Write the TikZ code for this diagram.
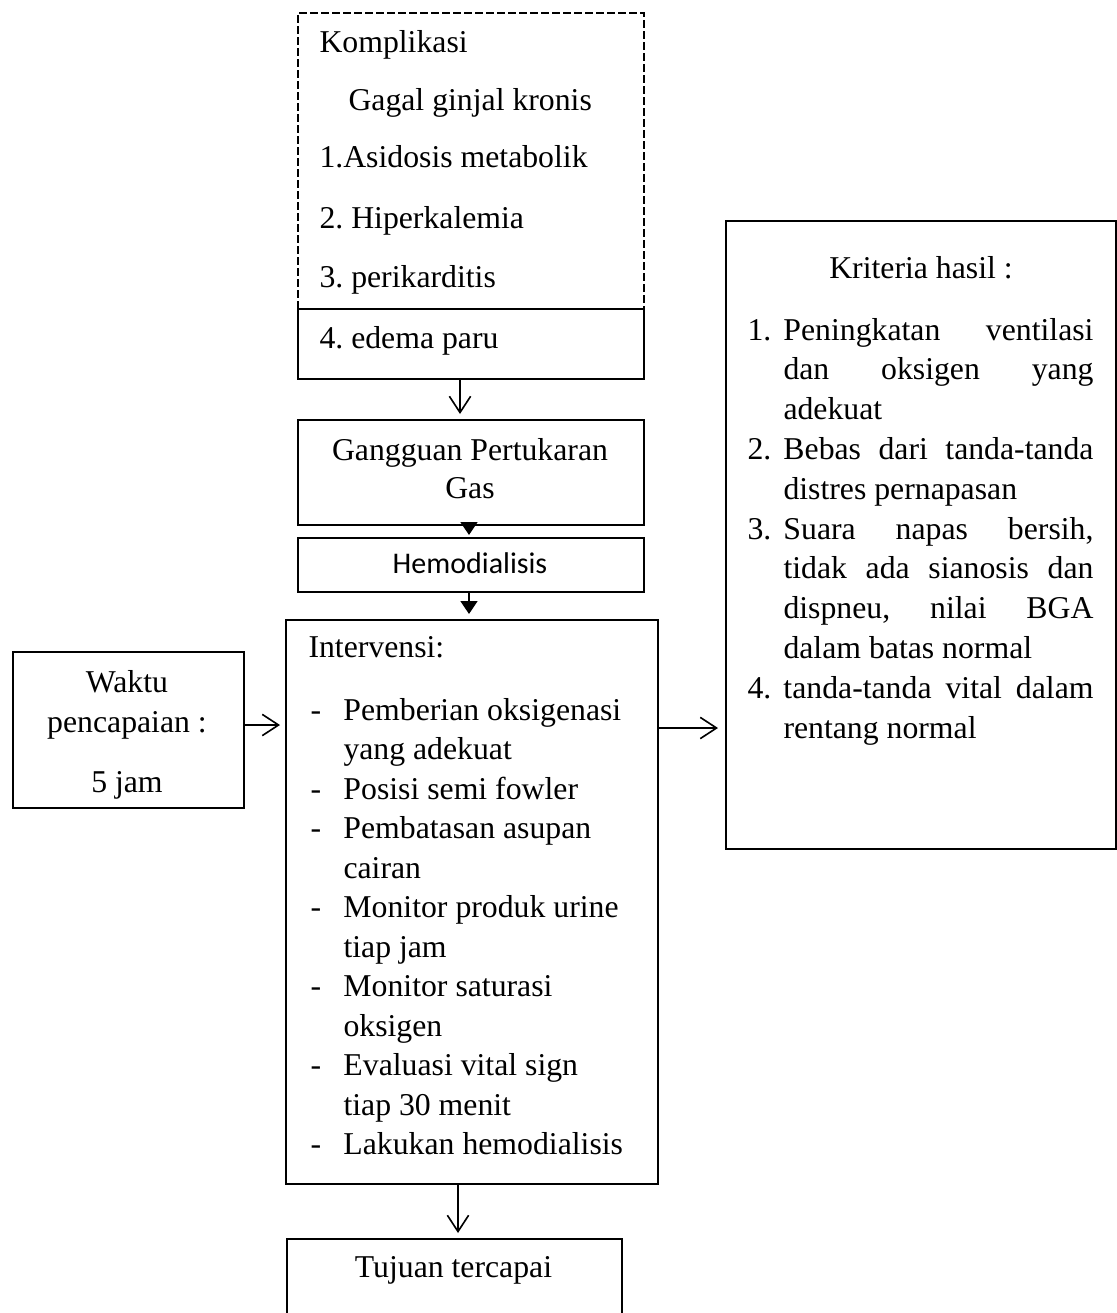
\documentclass[tikz,border=0pt]{standalone}
\usepackage{fontspec}
\setmainfont{Liberation Serif}
\newfontfamily\hemofont{Carlito}
\usetikzlibrary{arrows.meta}
\frenchspacing
\newcommand{\just}[1]{\makebox[124pt][s]{#1}}

\begin{document}
\begin{tikzpicture}
[x=0.4pt,y=-0.4pt,
  box/.style 2 args={draw=black,line width=0.8pt,anchor=north west,inner sep=0pt,
    minimum width=#1*0.4pt,minimum height=#2*0.4pt},
  dashbox/.style 2 args={box={#1}{#2},dash pattern=on 3pt off 1.4pt},
  txt/.style={anchor=base west,inner sep=0pt,font=\fontsize{12.7}{15.8}\selectfont},
  ctxt/.style={txt,anchor=base},
  open/.style={line width=0.65pt,shorten >=2pt,-{Straight Barb[length=6.5pt,width=8.5pt]}},
  filled/.style={line width=0.65pt,-{Triangle[length=5.2pt,width=6.8pt]}}]

\useasboundingbox (0,0) rectangle (1117,1313);

% kotak
\node[dashbox={346}{296}] (komp) at (297,12) {};
\node[box={346}{70}] (edema) at (297,308) {};
\node[box={346}{105}] (gangguan) at (297,419) {};
\node[box={346}{54}] (hemo) at (297,537) {};
\node[box={372}{564}] (interv) at (285,619) {};
\node[box={335}{110}] (tujuan) at (286,1238) {};
\node[box={231}{156}] (waktu) at (12,651) {};
\node[box={390}{628}] (krit) at (725,220) {};

% teks komplikasi
\node[txt] (kompT) at (319,52) {Komplikasi};
\node[txt] (gagalT) at (348,110) {Gagal ginjal kronis};
\node[txt] (asidT) at (319,167) {1.Asidosis metabolik};
\node[txt] (hiperT) at (319,228) {2. Hiperkalemia};
\node[txt] (periT) at (319,287) {3. perikarditis};
\node[txt] (edemaT) at (319,348) {4. edema paru};

\node[ctxt,font=\fontsize{12.7}{15.2}\selectfont] (ganggT) at (470,460)
  {\begin{tabular}[t]{@{}c@{}}Gangguan Pertukaran\\Gas\end{tabular}};
\node[ctxt,font=\hemofont\fontsize{12}{14}\selectfont] (hemoT) at (470,573) {Hemodialisis};

% intervensi
\node[txt] (intT) at (308,657) {Intervensi:};
\node[txt] (intL) at (310,720) {\begin{tabular}[t]{@{}p{13.2pt}@{}l@{}}
- & Pemberian oksigenasi\\
  & yang adekuat\\
- & Posisi semi fowler\\
- & Pembatasan asupan\\
  & cairan\\
- & Monitor produk urine\\
  & tiap jam\\
- & Monitor saturasi\\
  & oksigen\\
- & Evaluasi vital sign\\
  & tiap 30 menit\\
- & Lakukan hemodialisis
\end{tabular}};

\node[ctxt,font=\fontsize{12.7}{16}\selectfont] (waktuT) at (127,692)
  {\begin{tabular}[t]{@{}c@{}}Waktu\\pencapaian :\\[8pt]5 jam\end{tabular}};
\node[ctxt] (tujuanT) at (453.5,1277) {Tujuan tercapai};

% kriteria hasil
\node[ctxt] (kritT) at (921,278) {Kriteria hasil :};
\node[txt,font=\fontsize{12.7}{15.92}\selectfont] (kritL) at (747,340)
  {\begin{tabular}[t]{@{}p{14.4pt}@{}l@{}}
1. & \just{Peningkatan ventilasi}\\
   & \just{dan oksigen yang}\\
   & adekuat\\
2. & \just{Bebas dari tanda-tanda}\\
   & distres pernapasan\\
3. & \just{Suara napas bersih,}\\
   & \just{tidak ada sianosis dan}\\
   & \just{dispneu, nilai BGA}\\
   & dalam batas normal\\
4. & \just{tanda-tanda vital dalam}\\
   & rentang normal
\end{tabular}};

% panah
\coordinate (eg) at ([xshift=-4.4pt]edema.south);
\draw[open] (eg) -- (eg |- gangguan.north);
\coordinate (gh) at ([xshift=-0.8pt]gangguan.south);
\draw[filled,shorten >=0.8pt] (gh) -- (gh |- hemo.north);
\coordinate (hi) at ([xshift=-0.8pt]hemo.south);
\draw[filled,shorten >=2pt] (hi) -- (hi |- interv.north);
\coordinate (iv) at ([xshift=-5.6pt]interv.south);
\draw[open] (iv) -- (iv |- tujuan.north);
\coordinate (wk) at ([yshift=2pt]waktu.east);
\draw[open] (wk) -- (wk -| interv.west);
\coordinate (ikY) at (0,728);
\coordinate (ik) at (interv.east |- ikY);
\draw[open,shorten >=2.8pt] (ik) -- (ik -| krit.west);
\end{tikzpicture}
\end{document}
